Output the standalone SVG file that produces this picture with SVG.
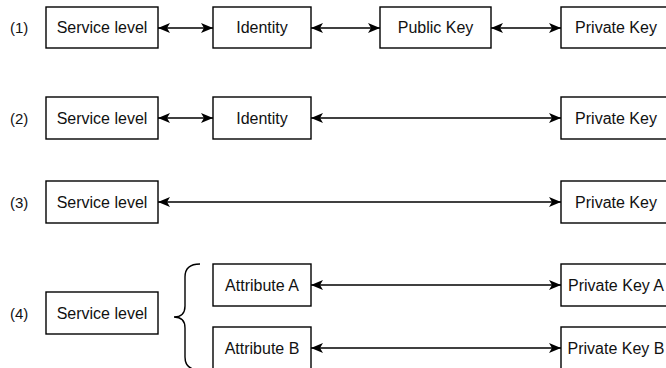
<svg xmlns="http://www.w3.org/2000/svg" width="666" height="368" viewBox="0 0 666 368">
<style>
.box{fill:#fff;stroke:#000;stroke-width:1.4}
.t{font-family:"Liberation Sans",Arial,sans-serif;font-size:16px;fill:#111;text-anchor:middle}
.lbl{font-family:"Liberation Sans",Arial,sans-serif;font-size:15px;fill:#111;text-anchor:start}
.c{fill:none;stroke:#000;stroke-width:1.4}
</style>
<defs>
<marker id="ah" markerUnits="userSpaceOnUse" markerWidth="12" markerHeight="10" viewBox="0 0 12 10" refX="12" refY="5" orient="auto-start-reverse">
<path d="M0,0 L12,5 L0,10 L3,5 Z" fill="#000"/>
</marker>
</defs>
<rect width="666" height="368" fill="#fff"/>
<g id="labels">
<text class="lbl" x="10" y="33">(1)</text>
<text class="lbl" x="10" y="124">(2)</text>
<text class="lbl" x="10" y="208">(3)</text>
<text class="lbl" x="10" y="319">(4)</text>
</g>
<g id="connectors">
<line class="c" x1="158" y1="28" x2="213" y2="28" marker-start="url(#ah)" marker-end="url(#ah)"/>
<line class="c" x1="311" y1="28" x2="380" y2="28" marker-start="url(#ah)" marker-end="url(#ah)"/>
<line class="c" x1="491" y1="28" x2="561" y2="28" marker-start="url(#ah)" marker-end="url(#ah)"/>
<line class="c" x1="158" y1="118" x2="213" y2="118" marker-start="url(#ah)" marker-end="url(#ah)"/>
<line class="c" x1="311" y1="118" x2="561" y2="118" marker-start="url(#ah)" marker-end="url(#ah)"/>
<line class="c" x1="158" y1="202" x2="561" y2="202" marker-start="url(#ah)" marker-end="url(#ah)"/>
<line class="c" x1="311" y1="285" x2="561" y2="285" marker-start="url(#ah)" marker-end="url(#ah)"/>
<line class="c" x1="311" y1="348" x2="561" y2="348" marker-start="url(#ah)" marker-end="url(#ah)"/>
<path class="c" d="M200,264 Q185,264 185,277 L185,306 Q185,317 174,317 Q185,317 185,328 L185,357 Q185,370 200,370"/>
</g>
<g id="n1-service"><rect class="box" x="46" y="7" width="112" height="41"/><text class="t" x="102" y="33">Service level</text></g>
<g id="n1-identity"><rect class="box" x="213" y="7" width="98" height="41"/><text class="t" x="262" y="33">Identity</text></g>
<g id="n1-public"><rect class="box" x="380" y="7" width="111" height="41"/><text class="t" x="435.5" y="33">Public Key</text></g>
<g id="n1-private"><rect class="box" x="561" y="7" width="110" height="41"/><text class="t" x="616" y="33">Private Key</text></g>
<g id="n2-service"><rect class="box" x="46" y="97" width="112" height="42"/><text class="t" x="102" y="124">Service level</text></g>
<g id="n2-identity"><rect class="box" x="213" y="97" width="98" height="42"/><text class="t" x="262" y="124">Identity</text></g>
<g id="n2-private"><rect class="box" x="561" y="97" width="110" height="42"/><text class="t" x="616" y="124">Private Key</text></g>
<g id="n3-service"><rect class="box" x="46" y="181" width="112" height="42"/><text class="t" x="102" y="208">Service level</text></g>
<g id="n3-private"><rect class="box" x="561" y="181" width="110" height="42"/><text class="t" x="616" y="208">Private Key</text></g>
<g id="n4-service"><rect class="box" x="46" y="292" width="112" height="42"/><text class="t" x="102" y="319">Service level</text></g>
<g id="n4-attrA"><rect class="box" x="213" y="264" width="98" height="42"/><text class="t" x="262" y="291">Attribute A</text></g>
<g id="n4-attrB"><rect class="box" x="213" y="327" width="98" height="42"/><text class="t" x="262" y="354">Attribute B</text></g>
<g id="n4-privA"><rect class="box" x="561" y="264" width="110" height="42"/><text class="t" x="616" y="291">Private Key A</text></g>
<g id="n4-privB"><rect class="box" x="561" y="327" width="110" height="42"/><text class="t" x="616" y="354">Private Key B</text></g>
</svg>
